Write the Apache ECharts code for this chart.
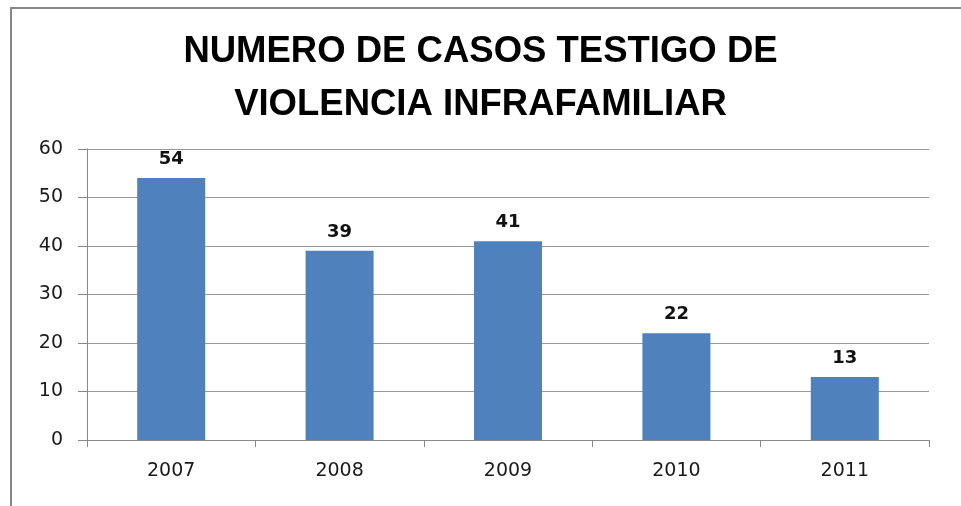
<!DOCTYPE html>
<html>
<head>
<meta charset="utf-8">
<script src="https://cdn.jsdelivr.net/npm/echarts@6/dist/echarts.min.js"></script>
<style>
  html, body { margin: 0; padding: 0; background: #fff; }
  #main { width: 961px; height: 506px; }
</style>
</head>
<body>
<div id="main"></div>
<script>
// datos del grafico
var years = ['2007', '2008', '2009', '2010', '2011'];
var casos = [54, 39, 41, 22, 13];
var yTicks = [0, 10, 20, 30, 40, 50, 60];

var chart = echarts.init(document.getElementById('main'));

var option = {
  animation: false,
  backgroundColor: '#fff',
  title: {
    text: 'NUMERO DE CASOS TESTIGO DE\nVIOLENCIA INFRAFAMILIAR',
    left: 'center',
    top: 20,
    textStyle: {
      fontFamily: '"Liberation Sans", Arial, sans-serif',
      fontWeight: 'bold',
      fontSize: 36.5,
      lineHeight: 53,
      color: '#000'
    }
  },
  graphic: [{
    // marco del grafico
    type: 'polyline',
    shape: { points: [[11, 506], [11, 8], [961, 8]] },
    style: { stroke: '#888', lineWidth: 2, fill: null }
  }],
  grid: {
    left: 87,
    right: 32,
    top: 149,
    bottom: 66
  },
  xAxis: {
    type: 'category',
    data: years,
    axisLine: { lineStyle: { color: '#888', width: 1 } },
    axisTick: { show: true, length: 7, lineStyle: { color: '#888' } },
    axisLabel: {
      margin: 22,
      fontFamily: '"DejaVu Sans", sans-serif',
      fontSize: 19,
      color: '#1a1a1a'
    }
  },
  yAxis: {
    type: 'value',
    min: yTicks[0],
    max: yTicks[yTicks.length - 1],
    interval: 10,
    axisLine: { show: true, lineStyle: { color: '#888', width: 1 } },
    axisTick: { show: true, length: 9, lineStyle: { color: '#888' } },
    splitLine: { lineStyle: { color: '#999', width: 1 } },
    axisLabel: {
      margin: 24,
      fontFamily: '"DejaVu Sans", sans-serif',
      fontSize: 19,
      color: '#1a1a1a'
    }
  },
  series: [{
    type: 'bar',
    data: casos,
    barWidth: 68,
    itemStyle: { color: '#4F81BD' },
    label: {
      show: true,
      position: 'top',
      distance: 10,
      fontFamily: '"DejaVu Sans", sans-serif',
      fontWeight: 'bold',
      fontSize: 18,
      color: '#111'
    }
  }]
};

chart.setOption(option);
</script>
</body>
</html>
